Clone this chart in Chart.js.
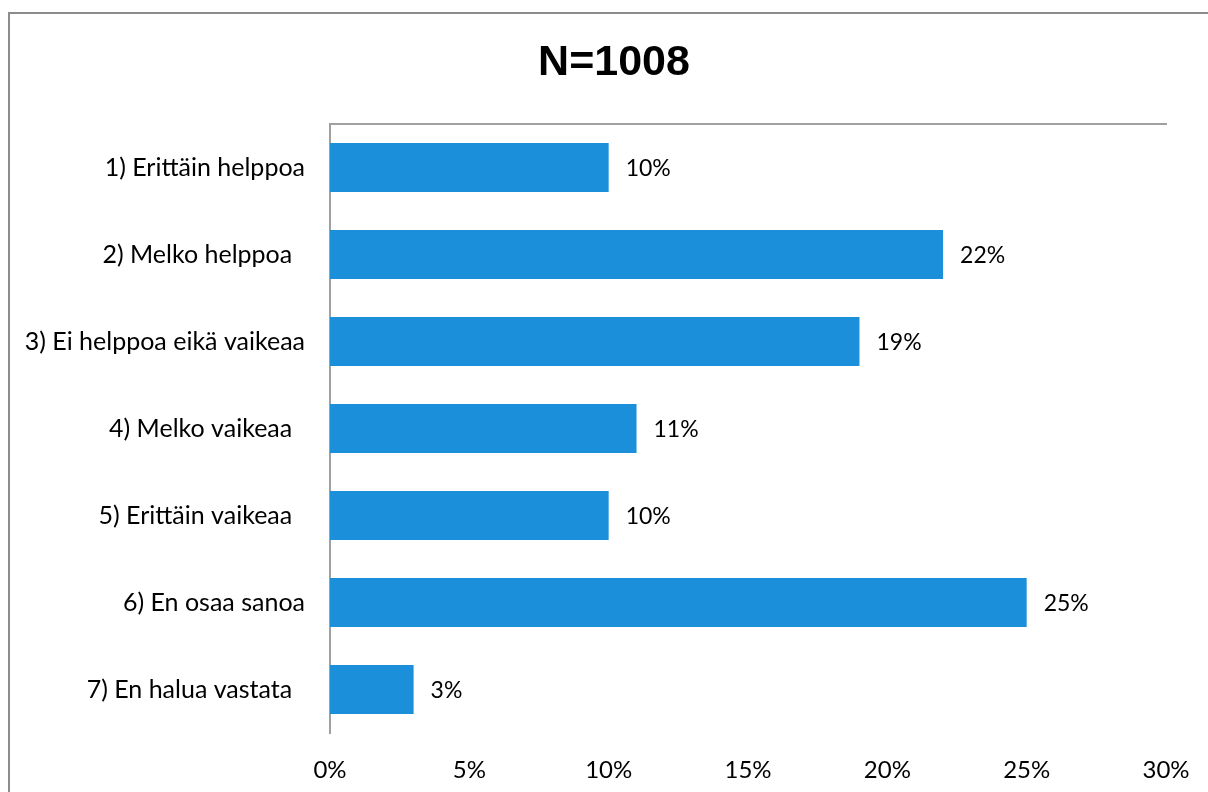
<!DOCTYPE html>
<html>
<head>
<meta charset="utf-8">
<script src="https://cdn.jsdelivr.net/npm/chart.js@4/dist/chart.umd.min.js"></script>
<style>
  html, body { margin: 0; padding: 0; background: #fff; overflow: hidden; }
  #wrap { position: relative; width: 1208px; height: 792px; }
  #frame {
    position: absolute; left: 8px; top: 12px; width: 1300px; height: 900px;
    border: 2px solid #8c8c8c; box-sizing: border-box;
  }
  canvas { position: absolute; left: 0; top: 0; }
</style>
</head>
<body>
<div id="wrap">
  <div id="frame"></div>
  <canvas id="chart" width="1208" height="792"></canvas>
</div>
<script>
const titleText = "N=1008";
// some source labels carry trailing spaces, kept as they are
const categories = [
  "1) Erittäin helppoa",
  "2) Melko helppoa  ",
  "3) Ei helppoa eikä vaikeaa",
  "4) Melko vaikeaa  ",
  "5) Erittäin vaikeaa  ",
  "6) En osaa sanoa",
  "7) En halua vastata  "
];
const shares = [10, 22, 19, 11, 10, 25, 3];
const tickValues = [0, 5, 10, 15, 20, 25, 30];

const FONT = "Lato, 'Open Sans', sans-serif";
const barColor = "#1b8fd9";
const axisColor = "#a0a0a0";

// the title sits a bit right of the canvas centre, so it is drawn here
const chartTitle = {
  id: "chartTitle",
  afterDraw(chart) {
    const ctx = chart.ctx;
    ctx.save();
    ctx.font = "bold 43px 'Liberation Sans', Arial, sans-serif";
    ctx.fillStyle = "#000";
    ctx.textAlign = "center";
    ctx.textBaseline = "middle";
    ctx.fillText(titleText, 614, 63);
    ctx.restore();
  }
};

// value labels at the end of each bar
const valueLabels = {
  id: "valueLabels",
  afterDatasetsDraw(chart) {
    const ctx = chart.ctx;
    const meta = chart.getDatasetMeta(0);
    ctx.save();
    ctx.font = "23px " + FONT;
    ctx.fillStyle = "#000";
    ctx.textAlign = "left";
    ctx.textBaseline = "middle";
    meta.data.forEach((bar, i) => {
      ctx.fillText(shares[i] + "%", bar.x + 17, bar.y + 1);
    });
    ctx.restore();
  }
};

new Chart(document.getElementById("chart"), {
  type: "bar",
  data: {
    labels: categories,
    datasets: [{
      data: shares,
      backgroundColor: barColor,
      borderWidth: 0,
      barPercentage: 0.563,
      categoryPercentage: 1
    }]
  },
  options: {
    indexAxis: "y",
    responsive: false,
    animation: false,
    layout: { padding: { left: 0, right: 42, top: 124, bottom: 0 } },
    plugins: {
      legend: { display: false },
      tooltip: { enabled: false },
      title: { display: false }
    },
    scales: {
      x: {
        position: "bottom",
        min: 0,
        max: 30,
        afterBuildTicks: (scale) => { scale.ticks = tickValues.map(v => ({ value: v })); },
        afterFit: (scale) => {
          scale.height = 59;
          scale.paddingLeft = 0;
          scale.paddingRight = 0;
        },
        grid: { display: false, drawTicks: false },
        border: { display: false },
        ticks: {
          padding: 23,
          color: "#000",
          font: { family: FONT, size: 24 },
          callback: (v) => v + "%"
        }
      },
      x2: {
        position: "top",
        min: 0,
        max: 30,
        afterFit: (scale) => { scale.height = 0; },
        grid: { display: false, drawTicks: false },
        border: { display: true, color: axisColor, width: 2 },
        ticks: { display: false }
      },
      y: {
        afterFit: (scale) => { scale.width = 330; },
        grid: { display: false, drawTicks: false },
        border: { display: true, color: axisColor, width: 2 },
        ticks: {
          padding: 25,
          color: "#000",
          font: { family: FONT, size: 25 }
        }
      }
    }
  },
  plugins: [valueLabels, chartTitle]
});
</script>
</body>
</html>
